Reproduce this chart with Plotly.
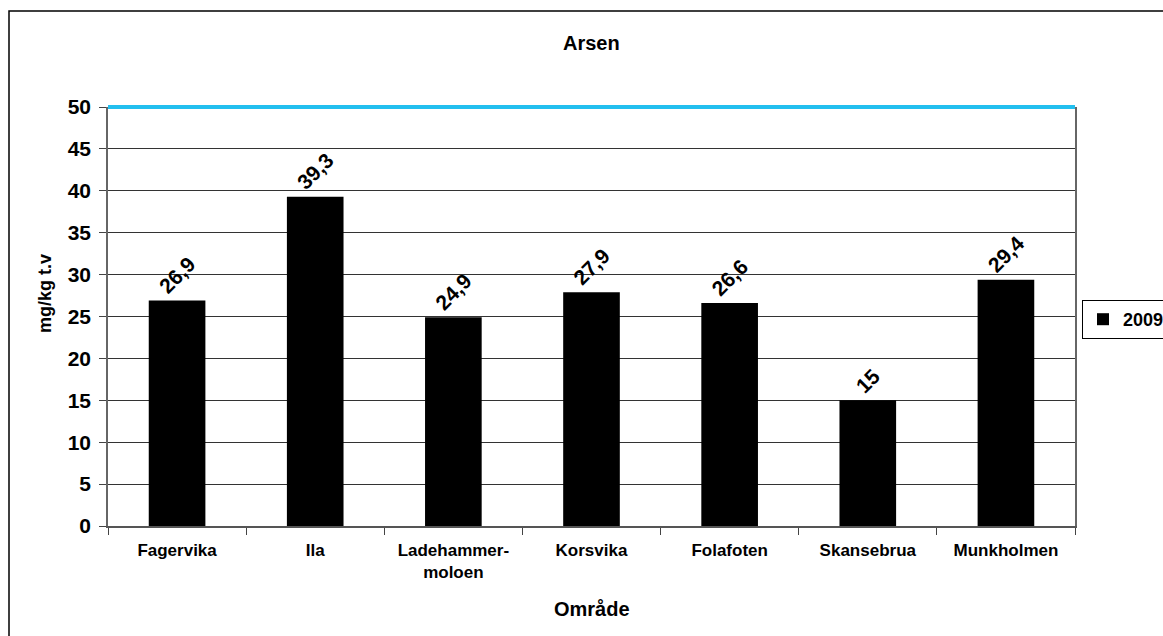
import plotly.graph_objects as go

categories = ["Fagervika", "Ila", "Ladehammer-<br>moloen", "Korsvika", "Folafoten", "Skansebrua", "Munkholmen"]
values_2009 = [26.9, 39.3, 24.9, 27.9, 26.6, 15, 29.4]
series_name = "2009"
limit_value = 50
y_max = 50
y_ticks = [0, 5, 10, 15, 20, 25, 30, 35, 40, 45, 50]

labels = [f"{v:g}".replace(".", ",") for v in values_2009]

FONT = "Liberation Sans, Arial, sans-serif"

fig = go.Figure()
fig.add_trace(go.Bar(
    x=categories, y=values_2009, name=series_name,
    marker=dict(color="black", line=dict(width=0)),
    width=0.41,
    text=labels, textposition="outside", textangle=-45,
    textfont=dict(family=FONT, size=21, color="black", weight="bold"),
    cliponaxis=False,
))

W, H = 1163, 636
L, R, T, B = 108, 88, 107, 110
pw, ph = W - L - R, H - T - B

def px_x(p):
    return (p - L) / pw

def px_y(p):
    return (H - B - p) / ph

fig.update_layout(
    width=W, height=H,
    margin=dict(l=L, r=R, t=T, b=B, pad=0, autoexpand=False),
    paper_bgcolor="white", plot_bgcolor="white",
    font=dict(family=FONT, color="black"),
    showlegend=True,
    legend=dict(
        x=px_x(1082), y=px_y(300), xanchor="left", yanchor="top",
        bordercolor="black", borderwidth=1, bgcolor="white",
        font=dict(family=FONT, size=18, color="black", weight="bold"),
        itemwidth=30, tracegroupgap=0,
    ),
    bargap=0.59,
    xaxis=dict(
        showgrid=False, ticks="outside", tickson="boundaries", ticklen=7,
        tickcolor="#444", showline=True, linecolor="#555", linewidth=1.5,
        mirror=False, ticklabelstandoff=8,
        tickfont=dict(family=FONT, size=17, color="black", weight="bold"),
    ),
    yaxis=dict(
        range=[0, y_max], tickvals=y_ticks, showgrid=True, gridcolor="#333",
        gridwidth=1, ticks="outside", ticklen=7, tickcolor="#444",
        showline=True, linecolor="#666", linewidth=1.5, mirror=True,
        zeroline=False, ticklabelstandoff=4,
        tickfont=dict(family=FONT, size=21, color="black", weight="bold"),
    ),
    shapes=[
        dict(type="line", xref="paper", yref="paper", x0=0, x1=1,
             y0=limit_value / y_max, y1=limit_value / y_max,
             line=dict(color="#22BFEF", width=4), layer="above"),
        dict(type="rect", xref="paper", yref="paper",
             x0=px_x(9), x1=px_x(1200), y0=px_y(700), y1=px_y(11),
             line=dict(color="black", width=1.5), fillcolor="rgba(0,0,0,0)",
             layer="below"),
    ],
    annotations=[
        dict(text="Arsen", xref="paper", yref="paper", x=0.5, y=px_y(43),
             showarrow=False, xanchor="center", yanchor="middle",
             font=dict(family=FONT, size=20, color="black", weight="bold")),
        dict(text="Område", xref="paper", yref="paper", x=0.5, y=px_y(609),
             showarrow=False, xanchor="center", yanchor="middle",
             font=dict(family=FONT, size=20, color="black", weight="bold")),
        dict(text="mg/kg t.v", xref="paper", yref="paper", x=px_x(45), y=px_y(294),
             showarrow=False, xanchor="center", yanchor="middle", textangle=-90,
             font=dict(family=FONT, size=18, color="black", weight="bold")),
    ],
)

fig.write_html("out.html", config={"displayModeBar": False},
               post_script="document.body.style.margin='0';document.body.style.overflow='hidden';")
